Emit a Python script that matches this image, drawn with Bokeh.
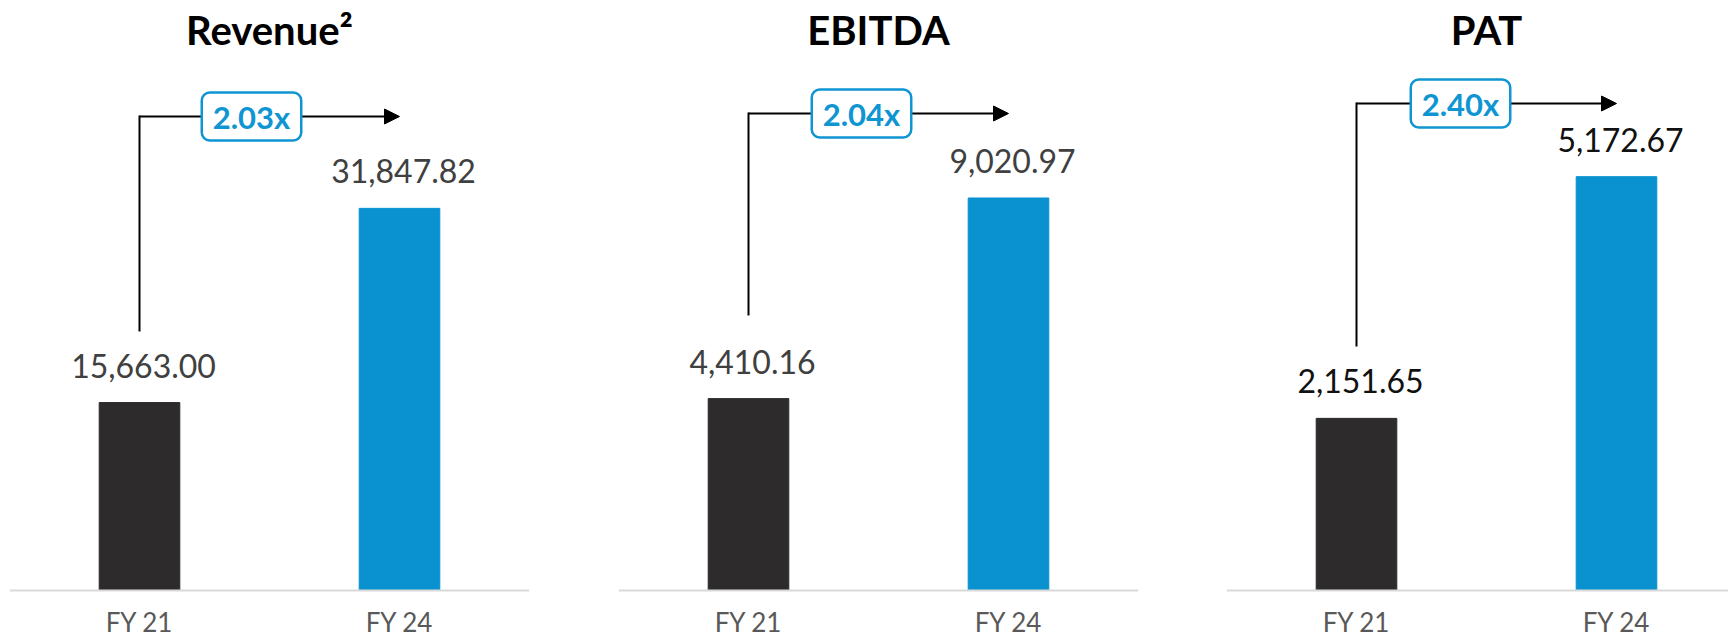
from bokeh.plotting import figure
from bokeh.layouts import row
from bokeh.models import Range1d, Label, Arrow, NormalHead, ColumnDataSource, Span
from bokeh.embed import file_html
from bokeh.resources import INLINE
from bokeh.core.properties import value

# ---------------- data ----------------
titles = ["Revenue²", "EBITDA", "PAT"]
periods = ["FY 21", "FY 24"]
revenue = [15663.00, 31847.82]
ebitda = [4410.16, 9020.97]
pat = [2151.65, 5172.67]
growth = ["2.03x", "2.04x", "2.40x"]

series = [revenue, ebitda, pat]

# ---------------- style / layout ----------------
BAR_COLORS = ["#2d2b2c", "#0992cf"]
BLUE = "#0f95d2"
VALUE_COLORS = ["#404040", "#404040", "#111111"]
FONT = "Lato"

FIG_H = 636
BASE_PX = 590          # pixel row of the zero line
FIG_W = [573, 609, 546]
BORDER_L = [9, 45, 44]
BORDER_R = [44, 44, 0]
UNIT_PX = 260.0
Y_TOP = [49170, 13560, 7375]   # value at the top edge of each panel

TITLE_BASE_PX = 29
ARROW_TOP_PX = [116, 113, 103]
ARROW_BOTTOM_PX = [330, 314, 345]
BOX_DX = [112, 113, 104]

figs = []
for i in range(3):
    vals = series[i]
    frame_w = FIG_W[i] - BORDER_L[i] - BORDER_R[i]
    x_start = -0.5
    x_end = x_start + frame_w / UNIT_PX
    ytop = Y_TOP[i]
    ybot = -ytop * (FIG_H - BASE_PX) / BASE_PX

    def ydata(px, ytop=ytop):
        return (BASE_PX - px) * ytop / BASE_PX

    p = figure(width=FIG_W[i], height=FIG_H, output_backend="svg", toolbar_location=None,
               x_range=Range1d(x_start, x_end), y_range=Range1d(ybot, ytop),
               x_axis_location=None, y_axis_location=None,
               min_border_left=BORDER_L[i], min_border_right=BORDER_R[i],
               min_border_top=0, min_border_bottom=0)
    p.outline_line_color = None
    p.xgrid.visible = False
    p.ygrid.visible = False
    p.background_fill_color = "white"
    p.border_fill_color = "white"

    xs = list(range(len(periods)))
    src = ColumnDataSource(dict(x=xs, top=vals, color=BAR_COLORS, period=periods,
                                label=[f"{v:,.2f}" for v in vals]))
    p.vbar(x="x", top="top", bottom=0, width=0.31, color="color", source=src)

    # baseline
    p.add_layout(Span(location=0, dimension="width", line_color="#d9d9d9", line_width=2))

    # category labels
    p.text(x="x", y=0, text="period", source=src, y_offset=31,
           text_align="center", text_baseline="alphabetic",
           text_font=value(FONT), text_font_size="26px", text_color="#595959")

    # value labels
    p.text(x="x", y="top", text="label", source=src, x_offset=4, y_offset=-37,
           text_align="center", text_baseline="alphabetic",
           text_font=value(FONT), text_font_size="32px", text_color=VALUE_COLORS[i])

    # title
    p.add_layout(Label(x=(xs[0] + xs[1]) / 2, y=ydata(TITLE_BASE_PX), text=titles[i],
                       text_align="center", text_baseline="alphabetic",
                       text_font=FONT, text_font_style="bold", text_font_size="40px",
                       text_color="black"))

    # growth arrow
    yt = ydata(ARROW_TOP_PX[i])
    yb = ydata(ARROW_BOTTOM_PX[i])
    p.segment(x0=xs[0], y0=yb, x1=xs[0], y1=yt, line_color="black", line_width=2,
              line_cap="square")
    p.add_layout(Arrow(x_start=xs[0], y_start=yt, x_end=xs[1], y_end=yt,
                       line_color="black", line_width=2,
                       end=NormalHead(size=15, fill_color="black", line_color="black")))
    p.add_layout(Label(x=xs[0], y=yt, x_offset=BOX_DX[i], text=growth[i],
                       text_align="center", text_baseline="middle",
                       text_font=FONT, text_font_style="bold", text_font_size="31px",
                       text_color=BLUE, background_fill_color="white",
                       border_line_color=BLUE, border_line_width=2.5,
                       border_radius=8, padding=(11, 5)))
    figs.append(p)

layout = row(*figs, spacing=0)
open("out.html", "w").write(file_html(layout, INLINE))
